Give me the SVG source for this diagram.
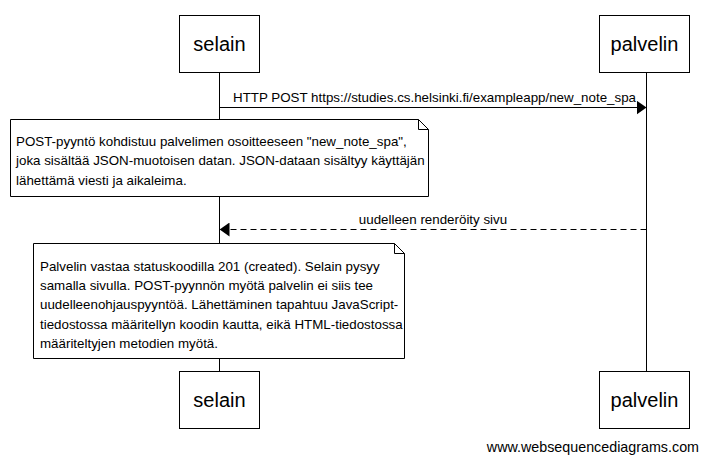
<svg xmlns="http://www.w3.org/2000/svg" width="708" height="462" viewBox="0 0 708 462">
<style>
.box{fill:#fff;stroke:#000;stroke-width:1}
.life{stroke:#000;stroke-width:1}
.pt{font-family:"Liberation Sans",Arial,sans-serif;font-size:20px;fill:#000;text-anchor:middle}
.tx{font-family:"Liberation Sans",Arial,sans-serif;font-size:13.35px;fill:#000}
.msg{stroke:#000;stroke-width:1;fill:none}
.dash{stroke-dasharray:6,4}
</style>
<defs>
<marker id="ah" markerWidth="10" markerHeight="14" refX="10" refY="7" orient="auto" markerUnits="userSpaceOnUse">
<path d="M0,0 L10,7 L0,14 Z" fill="#000"/>
</marker>
</defs>
<g id="lifelines">
<line class="life" x1="219.5" y1="72" x2="219.5" y2="371"/>
<line class="life" x1="646.5" y1="72" x2="646.5" y2="371"/>
</g>
<g id="selain-top"><rect class="box" x="179.5" y="15.5" width="80" height="57"/><text class="pt" x="219.5" y="51">selain</text></g>
<g id="palvelin-top"><rect class="box" x="599.5" y="15.5" width="90" height="57"/><text class="pt" x="644.5" y="51">palvelin</text></g>
<g id="selain-bottom"><rect class="box" x="179.5" y="371.5" width="80" height="57"/><text class="pt" x="219.5" y="407">selain</text></g>
<g id="palvelin-bottom"><rect class="box" x="599.5" y="371.5" width="90" height="57"/><text class="pt" x="644.5" y="407">palvelin</text></g>
<g id="connectors">
<line class="msg" x1="219.5" y1="107.5" x2="646.5" y2="107.5" marker-end="url(#ah)"/>
<text class="tx" x="233" y="101.5">HTTP POST https://studies.cs.helsinki.fi/exampleapp/new_note_spa</text>
<line class="msg dash" x1="646.5" y1="229.5" x2="219.5" y2="229.5" marker-end="url(#ah)"/>
<text class="tx" x="433" y="223.5" text-anchor="middle">uudelleen renderöity sivu</text>
</g>
<g id="note1">
<path class="box" d="M10.5,119.5 H418.5 L428.5,129.5 V196.5 H10.5 Z"/>
<path class="msg" d="M418.5,119.5 V129.5 H428.5"/>
<text class="tx" x="16" y="145.5">POST-pyyntö kohdistuu palvelimen osoitteeseen "new_note_spa",</text>
<text class="tx" x="16" y="165">joka sisältää JSON-muotoisen datan. JSON-dataan sisältyy käyttäjän</text>
<text class="tx" x="16" y="184.5">lähettämä viesti ja aikaleima.</text>
</g>
<g id="note2">
<path class="box" d="M33.5,243.5 H394.5 L404.5,253.5 V358.5 H33.5 Z"/>
<path class="msg" d="M394.5,243.5 V253.5 H404.5"/>
<text class="tx" x="40" y="270.5">Palvelin vastaa statuskoodilla 201 (created). Selain pysyy</text>
<text class="tx" x="40" y="290">samalla sivulla. POST-pyynnön myötä palvelin ei siis tee</text>
<text class="tx" x="40" y="309">uudelleenohjauspyyntöä. Lähettäminen tapahtuu JavaScript-</text>
<text class="tx" x="40" y="328.5">tiedostossa määritellyn koodin kautta, eikä HTML-tiedostossa</text>
<text class="tx" x="40" y="347.5">määriteltyjen metodien myötä.</text>
</g>
<text class="tx" x="699" y="452" text-anchor="end" style="font-size:14.3px">www.websequencediagrams.com</text>
</svg>
